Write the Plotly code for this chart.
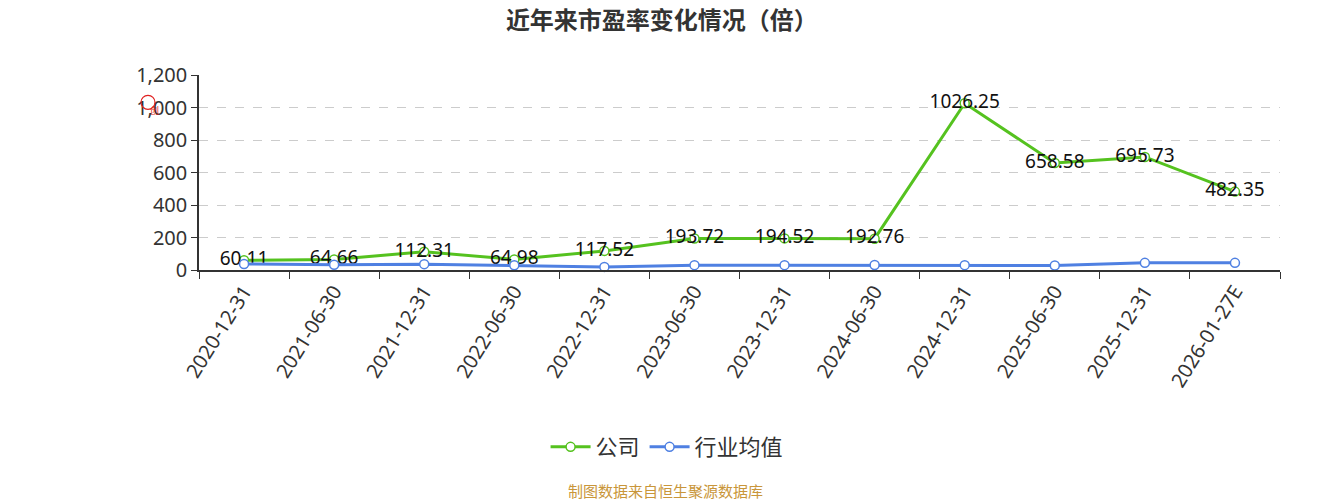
import plotly.graph_objects as go

categories = ["2020-12-31", "2021-06-30", "2021-12-31", "2022-06-30", "2022-12-31",
              "2023-06-30", "2023-12-31", "2024-06-30", "2024-12-31", "2025-06-30",
              "2025-12-31", "2026-01-27E"]
company = [60.11, 64.66, 112.31, 64.98, 117.52, 193.72, 194.52, 192.76, 1026.25, 658.58, 695.73, 482.35]
industry = [37, 32, 36, 29, 19, 30, 30, 31, 30, 28, 44, 44]

green = "#55c21f"
blue = "#4f80e2"

fig = go.Figure()
fig.add_trace(go.Scatter(
    x=categories, y=company, name="公司", mode="lines+markers+text",
    line=dict(color=green, width=3),
    marker=dict(symbol="circle", size=9, color="white", line=dict(color=green, width=1.5)),
    text=[f"{v:.2f}" for v in company], textposition="middle center",
    textfont=dict(size=19, color="#111", family="Noto Sans, Noto Sans CJK SC"),
    cliponaxis=False,
))
fig.add_trace(go.Scatter(
    x=categories, y=industry, name="行业均值", mode="lines+markers",
    line=dict(color=blue, width=3),
    marker=dict(symbol="circle", size=9, color="white", line=dict(color=blue, width=1.5)),
    cliponaxis=False,
))

W, H = 1325, 492
fig.update_layout(
    width=W, height=H,
    margin=dict(l=191, r=53, t=67, b=230),
    paper_bgcolor="white", plot_bgcolor="white",
    font=dict(family="Noto Sans CJK SC, Noto Sans, sans-serif", color="#333"),
    title=dict(text="<b>近年来市盈率变化情况（倍）</b>", x=0.4935, xanchor="center", y=0.974, yanchor="middle",
               font=dict(size=24, color="#333")),
    showlegend=True,
    legend=dict(orientation="h", x=0.433, xanchor="center", y=-0.908, yanchor="middle",
                font=dict(size=22, color="#333"), itemwidth=40),
    xaxis=dict(type="category", range=[-0.5, 11.5], tickson="boundaries",
               showline=True, linecolor="#333", linewidth=1.5,
               ticks="outside", ticklen=7, tickcolor="#333",
               tickangle=-58, tickfont=dict(size=20, color="#333", family="Noto Sans"),
               showgrid=False),
    yaxis=dict(range=[0, 1200], dtick=200, tickformat=",",
               showline=True, linecolor="#333", linewidth=1.5,
               ticks="outside", ticklen=6, tickcolor="#333",
               tickfont=dict(size=20, color="#333", family="Noto Sans"),
               showgrid=True, gridcolor="#cccccc", griddash="dash", gridwidth=1,
               zeroline=False),
)

fig.add_annotation(text="制图数据来自恒生聚源数据库", xref="paper", yref="paper",
                   x=0.432, y=-1.133, showarrow=False, yanchor="middle",
                   font=dict(size=15, color="#c9963a"))
# small red stamp icon near y axis
fig.add_shape(type="circle", xref="paper", yref="paper",
              x0=-0.0472 - 0.0065, x1=-0.0472 + 0.0065, y0=0.86 - 0.036, y1=0.86 + 0.036,
              line=dict(color="#e02020", width=1.2))
fig.add_annotation(text="创", xref="paper", yref="paper", x=-0.0472, y=0.86,
                   showarrow=False, font=dict(size=9, color="#e02020"))

fig.write_html("out.html")
